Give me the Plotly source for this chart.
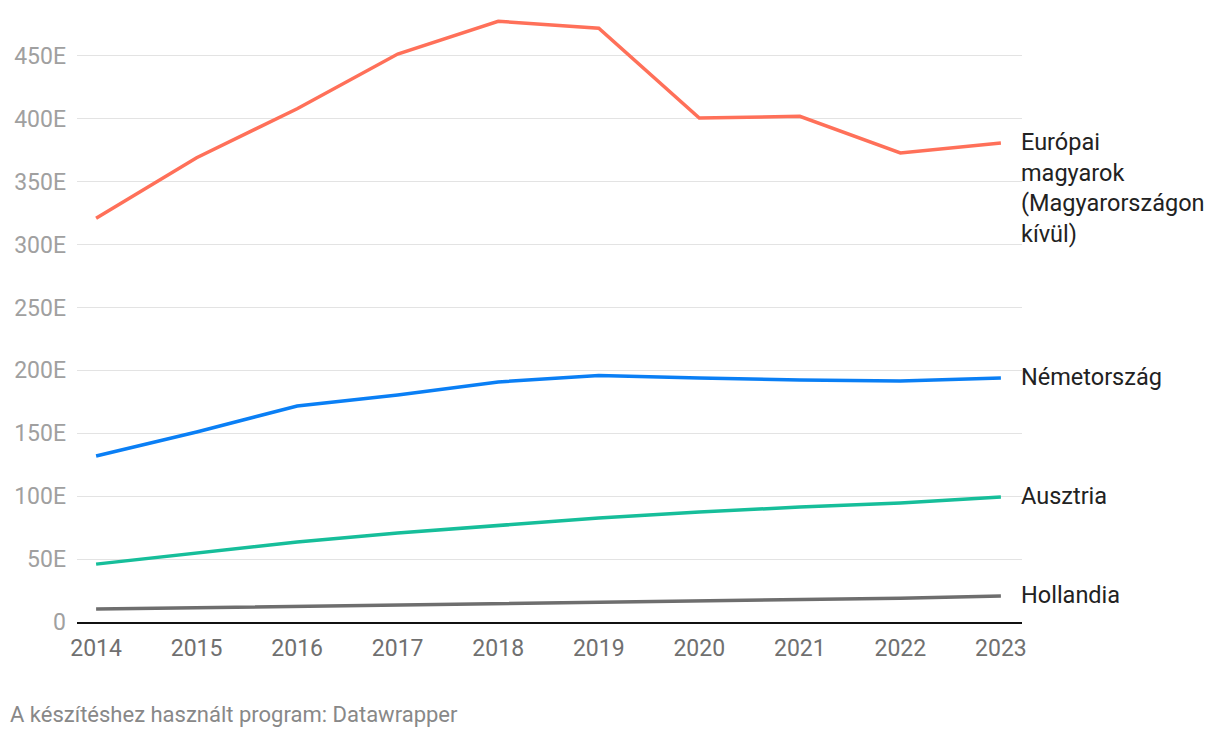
import plotly.graph_objects as go

years = [2014, 2015, 2016, 2017, 2018, 2019, 2020, 2021, 2022, 2023]
europe = [321, 369, 408, 451.5, 477.5, 472, 400.6, 402, 372.8, 380.8]
germany = [132, 151, 171.7, 180.4, 190.8, 196, 194, 192.4, 191.6, 194]
austria = [46, 55, 63.6, 70.7, 77, 82.7, 87.4, 91.4, 94.6, 99.4]
netherlands = [10.3, 11.3, 12.5, 13.4, 14.3, 15.5, 16.7, 17.5, 18.9, 20.7]

series_names = ["Európai<br>magyarok<br>(Magyarországon<br>kívül)", "Németország", "Ausztria", "Hollandia"]
series_values = [europe, germany, austria, netherlands]
series_colors = ["#ff7059", "#0a7ff5", "#16be9a", "#6e6e6e"]

y_tickvals = [0, 50, 100, 150, 200, 250, 300, 350, 400, 450]
y_ticktext = ["0", "50E", "100E", "150E", "200E", "250E", "300E", "350E", "400E", "450E"]

fig = go.Figure()
for name, vals, col in zip(series_names, series_values, series_colors):
    fig.add_trace(go.Scatter(x=years, y=vals, mode="lines",
                             line=dict(color=col, width=3.5),
                             name=name, showlegend=False, hoverinfo="skip"))
    fig.add_annotation(x=years[-1], y=vals[-1], xref="x", yref="y",
                       text=name, showarrow=False, xanchor="left",
                       yanchor="top", xshift=18, yshift=17, align="left",
                       font=dict(family="Roboto", size=23.5, color="#222222"))

fig.add_annotation(x=0, y=0, xref="paper", yref="paper", xanchor="left", yanchor="bottom",
                   text="A készítéshez használt program: Datawrapper", showarrow=False,
                   xshift=-69, yshift=-107,
                   font=dict(family="Roboto", size=22, color="#888888"))

fig.update_layout(
    width=1212, height=730,
    margin=dict(l=69, r=198, t=7, b=116),
    paper_bgcolor="white", plot_bgcolor="white",
    font=dict(family="Roboto"),
    xaxis=dict(range=[2013.81, 2023.21], tickvals=years, ticktext=[str(y) for y in years],
               showgrid=False, zeroline=False, showline=True, linecolor="#111111", linewidth=2,
               ticks="", tickfont=dict(family="Roboto", size=23, color="#707070"),
               ticklabelstandoff=4),
    yaxis=dict(range=[0, 482.5], tickvals=y_tickvals, ticktext=y_ticktext,
               showgrid=True, gridcolor="#e3e3e3", gridwidth=1, zeroline=False,
               ticks="", tickfont=dict(family="Roboto", size=23, color="#a0a0a0"),
               ticklabelstandoff=10),
)

fig.write_html("out.html")
